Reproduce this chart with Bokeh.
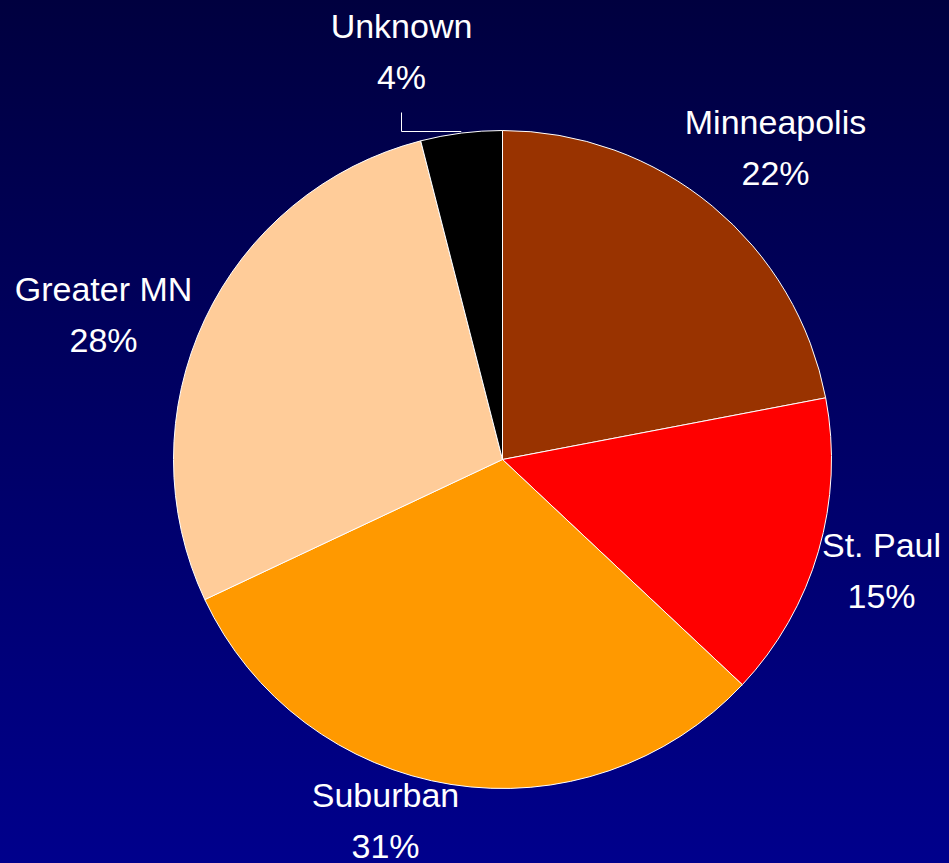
import math
from bokeh.plotting import figure
from bokeh.models import Range1d, ColumnDataSource, GlobalInlineStyleSheet
from bokeh.core.properties import value
from bokeh.embed import file_html
from bokeh.resources import INLINE

# ---- data ----
categories = ["Minneapolis", "St. Paul", "Suburban", "Greater MN", "Unknown"]
shares = [22, 15, 31, 28, 4]
colors = ["#993300", "#FF0000", "#FF9900", "#FFCC99", "#000000"]

# ---- layout (pixel-based data coordinates) ----
W, H = 941, 855
FONT = "Liberation Sans Narrow, Arial Narrow, Liberation Sans, sans-serif"

def px(X):
    return X - 8

def py(Y):
    return (H + 8) - Y

cx, cy, r = px(502), py(459), 329
# label anchor (x, vertical centre of name line) in page pixels
label_pos = {
    "Minneapolis": (775, 121),
    "St. Paul": (881, 544),
    "Suburban": (385, 794),
    "Greater MN": (103, 288),
    "Unknown": (401, 25),
}
line_gap = 51

total = sum(shares)
starts, ends = [], []
a = math.pi / 2
for s in shares:
    sweep = 2 * math.pi * s / total
    starts.append(a - sweep)
    ends.append(a)
    a -= sweep

src = ColumnDataSource(dict(start=starts, end=ends, color=colors, cat=categories))

p = figure(width=W, height=H, x_range=Range1d(0, W), y_range=Range1d(0, H),
           output_backend="svg", toolbar_location=None, min_border=0)
p.axis.visible = False
p.grid.visible = False
p.outline_line_color = None
p.background_fill_color = None
p.border_fill_color = None
p.stylesheets = [GlobalInlineStyleSheet(css=
    "html{min-height:100%;background:linear-gradient(to bottom,#00003f 0%,#00008c 100%) no-repeat;background-attachment:fixed;} body{background:transparent;margin:8px;overflow:hidden;}")]

p.wedge(x=cx, y=cy, radius=r, start_angle="start", end_angle="end",
        fill_color="color", line_color="white", line_width=1, source=src)

# leader line for Unknown
ui = categories.index("Unknown")
mid = (starts[ui] + ends[ui]) / 2
ex = cx + r * math.cos(mid)
p.line(x=[px(401), px(401), ex], y=[py(112), py(131), py(131)],
       line_color="white", line_width=1)

names_x, names_y, pct_y, pct_txt = [], [], [], []
for c, s in zip(categories, shares):
    X, Yc = label_pos[c]
    names_x.append(px(X))
    names_y.append(py(Yc))
    pct_y.append(py(Yc + line_gap))
    pct_txt.append(f"{s}%")

p.text(x=names_x, y=names_y, text=categories, text_align="center",
       text_baseline="middle", text_color="white",
       text_font=value(FONT), text_font_size="34px")
p.text(x=names_x, y=pct_y, text=pct_txt, text_align="center",
       text_baseline="middle", text_color="white",
       text_font=value(FONT), text_font_size="34px")

open("out.html", "w").write(file_html(p, INLINE))
